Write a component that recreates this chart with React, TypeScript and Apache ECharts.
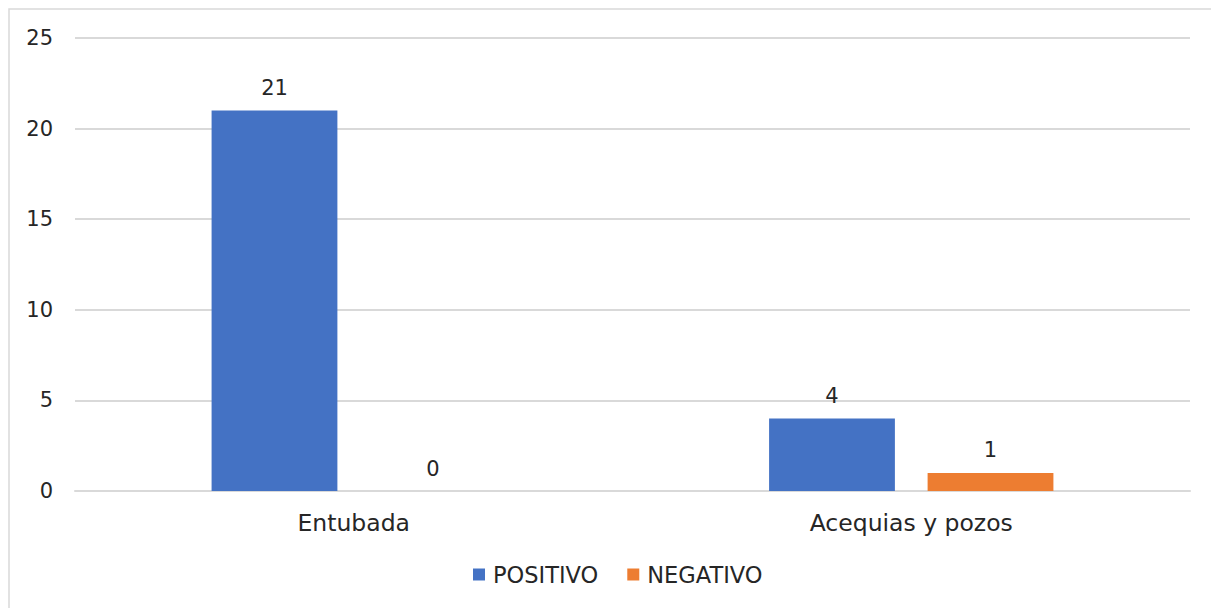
import React, { useEffect, useRef } from "react";
import * as echarts from "echarts";

const categories = ["Entubada", "Acequias y pozos"];
const positivo = [21, 4];
const negativo = [0, 1];
const yTicks = { min: 0, max: 25, interval: 5 };

const FONT = "'DejaVu Sans', sans-serif";
const TEXT = "#262626";

export default function App() {
  const ref = useRef<HTMLDivElement>(null);

  useEffect(() => {
    document.body.style.margin = "0";
    if (!ref.current) return;
    const chart = echarts.init(ref.current, undefined, { renderer: "svg" });
    const label = {
      show: true,
      position: "top" as const,
      distance: 12,
      color: TEXT,
      fontSize: 21,
      fontFamily: FONT,
    };
    chart.setOption({
      animation: false,
      backgroundColor: "#ffffff",
      textStyle: { fontFamily: FONT },
      graphic: [
        {
          type: "rect",
          shape: { x: 9, y: 9, width: 1260, height: 660 },
          style: { fill: "none", stroke: "#d9d9d9", lineWidth: 1.5 },
          silent: true,
        },
      ],
      grid: { left: 75, right: 21, top: 38, bottom: 117, containLabel: false },
      legend: {
        bottom: 17,
        left: 468,
        itemWidth: 12,
        itemHeight: 12,
        itemGap: 29,
        icon: "rect",
        textStyle: { fontSize: 22.5, color: TEXT, fontFamily: FONT, padding: [0, 0, 0, 3] },
        data: ["POSITIVO", "NEGATIVO"],
      },
      xAxis: {
        type: "category",
        data: categories,
        axisLine: { show: true, lineStyle: { color: "#d9d9d9", width: 2 } },
        axisTick: { show: false },
        axisLabel: { fontSize: 23.5, color: TEXT, margin: 20, fontFamily: FONT },
      },
      yAxis: {
        type: "value",
        min: yTicks.min,
        max: yTicks.max,
        interval: yTicks.interval,
        axisLine: { show: false },
        axisTick: { show: false },
        splitLine: { lineStyle: { color: "#d9d9d9", width: 2 } },
        axisLabel: { fontSize: 21, color: TEXT, margin: 22, fontFamily: FONT },
      },
      series: [
        {
          name: "POSITIVO",
          type: "bar",
          data: positivo,
          itemStyle: { color: "#4472C4" },
          barGap: "26%",
          barCategoryGap: "49%",
          label,
        },
        {
          name: "NEGATIVO",
          type: "bar",
          data: negativo,
          itemStyle: { color: "#ED7D31" },
          label,
        },
      ],
    });
    return () => chart.dispose();
  }, []);

  return <div ref={ref} style={{ width: 1211, height: 608 }} />;
}
